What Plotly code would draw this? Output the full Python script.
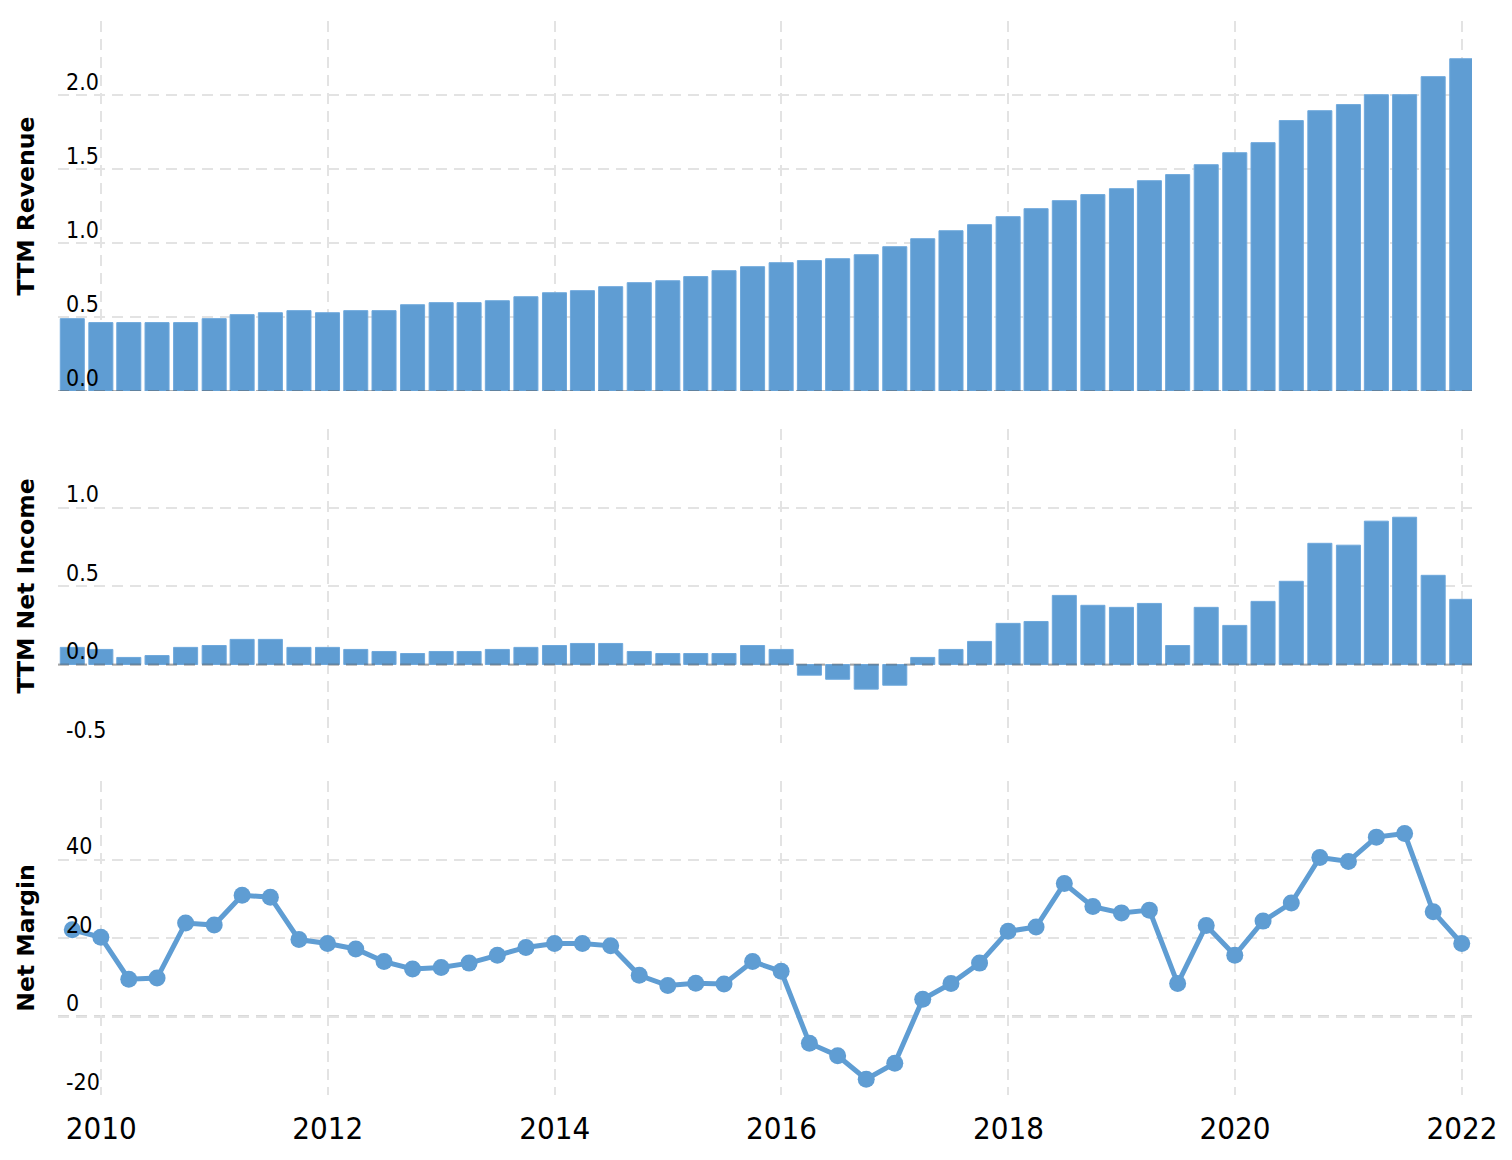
import plotly.graph_objects as go
from plotly.subplots import make_subplots

dates = [
    "2009-09-30", "2009-12-31", "2010-03-31", "2010-06-30", "2010-09-30", "2010-12-31",
    "2011-03-31", "2011-06-30", "2011-09-30", "2011-12-31", "2012-03-31", "2012-06-30",
    "2012-09-30", "2012-12-31", "2013-03-31", "2013-06-30", "2013-09-30", "2013-12-31",
    "2014-03-31", "2014-06-30", "2014-09-30", "2014-12-31", "2015-03-31", "2015-06-30",
    "2015-09-30", "2015-12-31", "2016-03-31", "2016-06-30", "2016-09-30", "2016-12-31",
    "2017-03-31", "2017-06-30", "2017-09-30", "2017-12-31", "2018-03-31", "2018-06-30",
    "2018-09-30", "2018-12-31", "2019-03-31", "2019-06-30", "2019-09-30", "2019-12-31",
    "2020-03-31", "2020-06-30", "2020-09-30", "2020-12-31", "2021-03-31", "2021-06-30",
    "2021-09-30", "2021-12-31",
]

ttm_revenue = [
    0.489, 0.462, 0.462, 0.462, 0.462, 0.489, 0.516, 0.529, 0.543, 0.529,
    0.543, 0.543, 0.583, 0.597, 0.597, 0.610, 0.637, 0.664, 0.678, 0.705,
    0.732, 0.745, 0.773, 0.813, 0.840, 0.867, 0.881, 0.894, 0.921, 0.975,
    1.029, 1.083, 1.124, 1.178, 1.232, 1.286, 1.327, 1.367, 1.421, 1.462,
    1.529, 1.610, 1.678, 1.827, 1.894, 1.935, 2.002, 2.002, 2.124, 2.245,
]

ttm_net_income = [
    0.109, 0.096, 0.045, 0.057, 0.109, 0.121, 0.160, 0.160, 0.109, 0.109,
    0.096, 0.083, 0.070, 0.083, 0.083, 0.096, 0.109, 0.121, 0.134, 0.134,
    0.083, 0.070, 0.070, 0.070, 0.121, 0.096, -0.068, -0.094, -0.157, -0.132,
    0.045, 0.096, 0.147, 0.262, 0.274, 0.440, 0.377, 0.364, 0.389, 0.121,
    0.364, 0.249, 0.402, 0.530, 0.772, 0.760, 0.913, 0.938, 0.568, 0.415,
]

net_margin = [
    22.1, 20.2, 9.5, 9.8, 23.8, 23.3, 30.9, 30.4, 19.6, 18.6,
    17.2, 14.0, 12.1, 12.5, 13.6, 15.6, 17.6, 18.6, 18.6, 18.0,
    10.5, 7.9, 8.5, 8.3, 14.0, 11.5, -6.8, -10.0, -16.0, -11.9,
    4.4, 8.4, 13.6, 21.7, 22.8, 33.9, 28.0, 26.4, 27.1, 8.4,
    23.2, 15.6, 24.3, 28.9, 40.5, 39.5, 45.7, 46.6, 26.7, 18.6,
]

rev_ticks = [0, 0.5, 1.0, 1.5, 2.0, 2.5]
rev_ticktext = ["0.0", "0.5", "1.0", "1.5", "2.0", ""]
ni_ticks = [-0.5, 0, 0.5, 1.0, 1.5]
ni_ticktext = ["-0.5", "0.0", "0.5", "1.0", ""]
nm_ticks = [-20, 0, 20, 40, 60]
nm_ticktext = ["-20", "0", "20", "40", ""]

BLUE = "#5f9dd3"
GRID = "#e3e3e3"
COND = "DejaVu Sans Condensed, DejaVu Sans, sans-serif"
TICKFONT = dict(family=COND, size=23, color="#000000")
TITLEFONT = dict(family="DejaVu Sans, sans-serif", size=23.5, color="#000000")

fig = make_subplots(rows=3, cols=1, shared_xaxes=True, vertical_spacing=0.03)

fig.add_trace(go.Bar(x=dates, y=ttm_revenue, marker=dict(color=BLUE, line=dict(color="#6ea8dc", width=1)),
                     showlegend=False), row=1, col=1)
fig.add_trace(go.Bar(x=dates, y=ttm_net_income, marker=dict(color=BLUE, line=dict(color="#6ea8dc", width=1)),
                     showlegend=False), row=2, col=1)
fig.add_trace(go.Scatter(x=dates, y=net_margin, mode="lines+markers",
                         line=dict(color=BLUE, width=5), marker=dict(color=BLUE, size=17),
                         showlegend=False), row=3, col=1)

H = 1074.0
def dom(top_px, bot_px):
    return [(1095 - bot_px) / H, (1095 - top_px) / H]

xcommon = dict(type="date", range=["2009-08-15", "2022-02-02"], dtick="M24", tick0="2010-01-01",
               tickformat="%Y", showgrid=True, gridcolor=GRID, griddash="11px,7px", gridwidth=2,
               showline=False, zeroline=False, ticks="")
fig.update_xaxes(**xcommon)
fig.update_xaxes(showticklabels=False, row=1, col=1)
fig.update_xaxes(showticklabels=False, row=2, col=1)
fig.update_xaxes(showticklabels=True, tickfont=dict(family=COND, size=31, color="#000000"),
                 ticklabelstandoff=12, ticklabeloverflow="allow", row=3, col=1)

ycommon = dict(showgrid=True, gridcolor=GRID, griddash="11px,7px", gridwidth=2, zeroline=False,
               showline=False, ticks="", ticklabelposition="inside top", tickfont=TICKFONT,
               ticklabelstandoff=5, ticklabelshift=3,
               automargin=False, title_font=TITLEFONT, title_standoff=24)
fig.update_yaxes(**ycommon)
fig.update_yaxes(domain=dom(21, 391), range=[0, 2.5], tickvals=rev_ticks, ticktext=rev_ticktext,
                 title_text="<b>TTM Revenue</b>", row=1, col=1)
fig.update_yaxes(domain=dom(429, 743), range=[-0.5, 1.5], tickvals=ni_ticks, ticktext=ni_ticktext,
                 title_text="<b>TTM Net Income</b>", row=2, col=1)
fig.update_yaxes(domain=dom(781, 1095), range=[-20, 60], tickvals=nm_ticks, ticktext=nm_ticktext,
                 title_text="<b>Net Margin</b>", row=3, col=1)

for yr, lay in (("y", "above"), ("y2", "above"), ("y3", "below")):
    fig.add_shape(type="line", xref=("x" if yr == "y" else "x" + yr[1:]) + " domain", yref=yr,
                  x0=0, x1=1, y0=0, y1=0, layer=lay,
                  line=dict(color="rgba(90,90,90,0.45)" if lay == "above" else "#b5b5b5", width=2, dash="11px,7px"))

fig.update_layout(width=1512, height=1160, margin=dict(l=58, r=40, t=21, b=65),
                  plot_bgcolor="white", paper_bgcolor="white", bargap=0.14)

fig.write_html("out.html", config={"displayModeBar": False},
               post_script="document.body.style.margin='0';")
